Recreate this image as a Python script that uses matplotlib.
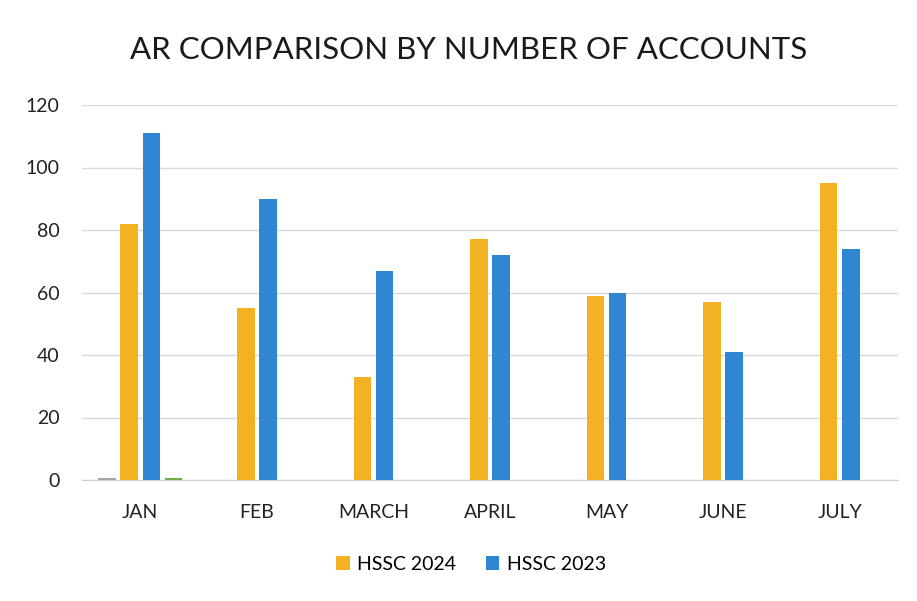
import matplotlib.pyplot as plt
import numpy as np

categories = ["JAN", "FEB", "MARCH", "APRIL", "MAY", "JUNE", "JULY"]
hssc_2024 = [82, 55, 33, 77, 59, 57, 95]
hssc_2023 = [111, 90, 67, 72, 60, 41, 74]
extra_grey = [0.5, 0, 0, 0, 0, 0, 0]
extra_green = [0.8, 0, 0, 0, 0, 0, 0]
y_ticks = [0, 20, 40, 60, 80, 100, 120]

plt.rcParams['font.family'] = ['Lato', 'DejaVu Sans']

fig = plt.figure(figsize=(9.17, 6.01), dpi=100)
ax = fig.add_axes([82/917, 1 - 480/601, (898-82)/917, (480-105)/601])

x = np.arange(len(categories))
w = 0.15
step = 0.19
series = [
    (extra_grey, '#A5A5A5', None),
    (hssc_2024, '#F2B224', 'HSSC 2024'),
    (hssc_2023, '#2F86D2', 'HSSC 2023'),
    (extra_green, '#70AD47', None),
]
handles = []
for i, (vals, col, lab) in enumerate(series):
    b = ax.bar(x + (i - 1.5) * step, vals, width=w, color=col, zorder=3)
    if lab:
        handles.append((b, lab))

ax.set_xlim(-0.5, len(categories) - 0.5)
ax.set_ylim(0, 120)
ax.set_yticks(y_ticks)
ax.set_xticks(x)
ax.set_xticklabels(categories)
ax.tick_params(axis='both', length=0, labelsize=14, colors='#222222')
ax.tick_params(axis='y', pad=16)
ax.tick_params(axis='x', pad=17)
ax.grid(axis='y', color='#D9D9D9', linewidth=1, zorder=0)
for s in ['top', 'right', 'left']:
    ax.spines[s].set_visible(False)
ax.spines['bottom'].set_color('#D0D0D0')

fig.text(469/917, 1 - 50/601, "AR COMPARISON BY NUMBER OF ACCOUNTS",
         ha='center', va='center', fontsize=22.5, color='#1a1a1a')

fig.legend([h for h, _ in handles], [l for _, l in handles],
           loc='center', bbox_to_anchor=(471/917, 1 - 564/601), ncol=2,
           frameon=False, fontsize=14, handlelength=0.7, handleheight=0.7,
           columnspacing=1.5, handletextpad=0.4)

fig.savefig('out.png', dpi=100, facecolor='white')
